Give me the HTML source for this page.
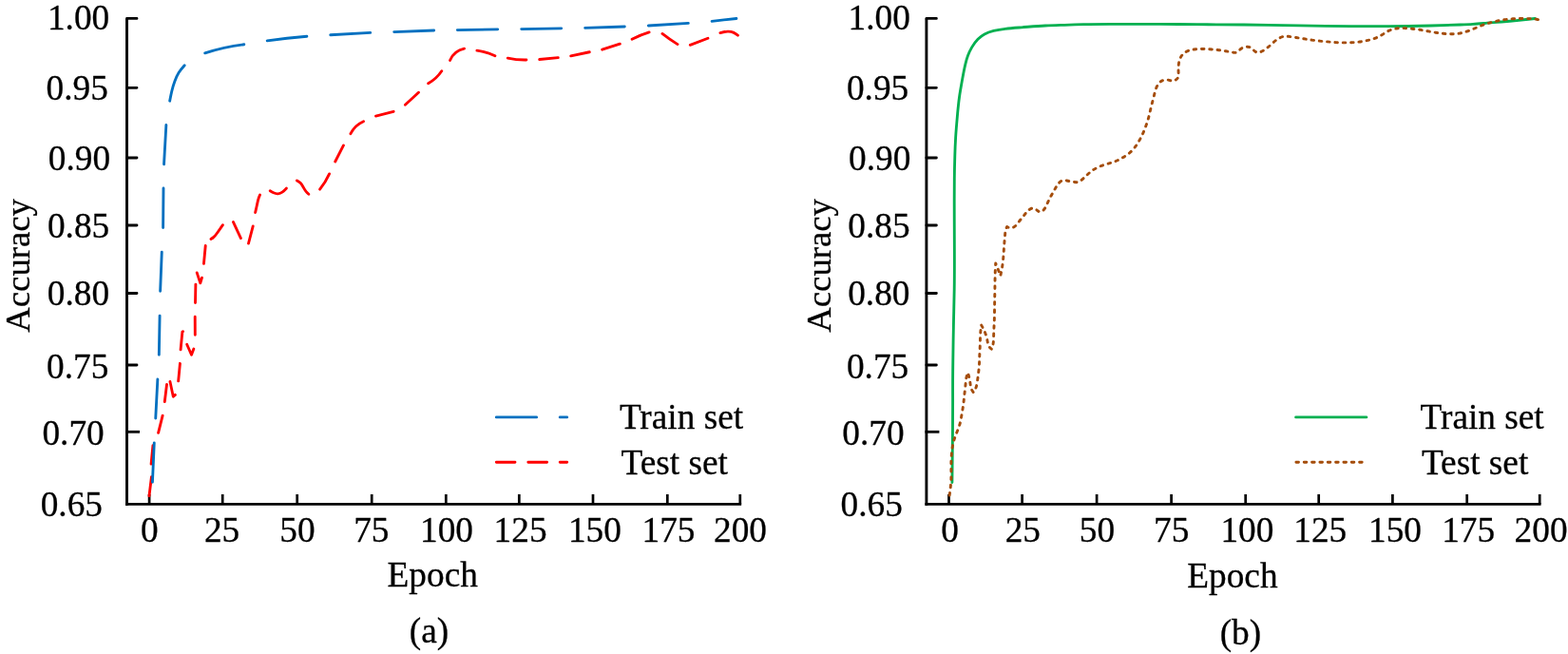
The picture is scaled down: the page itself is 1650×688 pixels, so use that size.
<!DOCTYPE html>
<html lang="en"><head><meta charset="utf-8"><title>Accuracy vs. Epoch</title>
<style>html,body{margin:0;padding:0;background:#fff}body{width:1650px;height:688px;overflow:hidden}svg{display:block}text{font-family:"Liberation Serif","Times New Roman",serif;font-size:37.3px;fill:#000;stroke:#000;stroke-width:0.3px;stroke-linejoin:round}</style>
</head><body>
<svg width="1650" height="688" viewBox="0 0 1650 688">
<rect width="1650" height="688" fill="#fff"/>
<g transform="translate(0,0)">
<g stroke="#000" fill="none">
<path d="M133.5,19.45V531.7" stroke-width="2.9"/>
<path d="M132.05,530.4H780.15" stroke-width="2.6"/>
<path d="M133.5,19.45H144M133.5,92.3H144M133.5,166H144M133.5,237H144M133.5,308.5H144M133.5,384H144" stroke-width="2.8" stroke-linecap="round"/>
<path d="M133.5,454.3H145.6" stroke-width="2.8" stroke-linecap="square"/>
<path d="M157.1,530.4V520M234.2,530.4V520M312.7,530.4V520M391.2,530.4V520M469.3,530.4V520M546.3,530.4V520M624,530.4V520M702.3,530.4V520M778.8,530.4V520" stroke-width="2.7"/>
</g>
<g fill="none" stroke="#FF0000" stroke-width="2.85" stroke-linecap="round" stroke-linejoin="round">
<path d="M156.98,521.71L159.42,501.69M159.07,488.1L160.93,468.7M166.57,455.32L171.13,437.08M173.29,422.51L175.51,404.39M178.95,401.48L182.3,417.3L184.39,415.37M187.67,400.9L189.43,382.3M190.07,367.8L191.9,349L192.58,348.63M196.68,362.24L201.5,373.3L203.85,367.06M205.3,352.3L205.2,333.2M205.51,318.5L205.89,299.1M207.22,286.87L210.8,297.9L212.5,292.17M214.47,277.3L216.23,258.5M221.99,251.42C222.75,250.97 223.51,250.53 224.2,250C226.05,248.6 227.44,246.64 228.8,244.7C230.7,242 232.55,239.34 234.4,236.67M245.49,233.53L253.41,250.57M261.48,256.12L266.22,237.88M268.65,223.52C269.28,220.75 269.91,217.99 270.5,215.2C271.03,212.7 271.53,210.19 272.4,207.8C272.74,206.87 273.14,205.96 273.53,205.05M284.21,200.75C285.37,201.49 286.53,202.22 287.8,202.8C289.31,203.48 290.98,203.94 292.6,203.8C294.32,203.65 295.97,202.83 297.4,201.8C298.9,200.72 300.14,199.4 301.39,198.08M312.37,189.9C313.74,190.71 315.11,191.51 316.2,192.6C317.54,193.94 318.44,195.7 319.4,197.4C320.24,198.89 321.11,200.33 322.2,201.6C322.99,202.53 323.9,203.37 324.81,204.21M336.6,199.23Q342.59,191.69 346.57,182.92M352.72,169.98L361.48,152.92M368.91,140.64Q373.4,131.72 382.52,127.69M395.48,122.03L414.12,117.27M426.41,110.32L440.49,97.18M450.66,87.78Q459.26,82.88 464.76,74.74M473.53,63.45Q477.97,53.37 488.56,51.18M501.89,53.14Q511.86,54.42 520.95,58.75M534.29,61.11Q543.99,63.17 553.9,62.97M567.7,62.53L587.3,60.67M600.69,58.86L620.31,54.74M633.67,52.19L652.33,46.21M665.04,41.21Q673.79,36.83 683.14,33.93M696.96,35.42Q704.64,41.52 713.01,46.62M726.25,47.35L744.95,40.25M757.89,34.66C760.49,33.92 763.09,33.18 765.8,33.1C767.77,33.04 769.8,33.34 771.6,34.1C773.35,34.84 774.88,36.03 776.41,37.22"/>
</g>
<g fill="none" stroke="#0070C0" stroke-width="2.85" stroke-linecap="round" stroke-linejoin="round">
<path d="M160.43,507.2L162.27,465.9M163.74,440L165.86,399M167.31,373.2L168.09,332.1M168.63,306.3L170.27,265.1M171.61,239.5L171.99,198M172.54,172.8L174.86,131.5M178.64,106.22C179.38,102.32 180.12,98.43 181.1,94.6C181.86,91.63 182.76,88.7 183.8,85.8C184.98,82.5 186.34,79.24 188.2,76.3C189.91,73.6 192.04,71.17 194.17,68.75M215.68,55.82Q235.8,49.26 256.81,46.72M281.19,42.91Q301.96,39.81 322.9,38.26M347.7,36.76L389.7,34.44M414.7,33.57L456.7,32.03M481.3,31.59L523.7,30.81M548.7,30.59L590.7,29.81M615.7,29.38L657.3,28.02M682.3,26.96L724.3,24.44M749.1,22.32L774.9,19.48"/>
</g>
<text x="115.2" y="31.3" text-anchor="end">1.00</text>
<text x="113.8" y="105" text-anchor="end">0.95</text>
<text x="116.1" y="179" text-anchor="end">0.90</text>
<text x="115.2" y="250" text-anchor="end">0.85</text>
<text x="115.1" y="320.6" text-anchor="end">0.80</text>
<text x="114.3" y="398" text-anchor="end">0.75</text>
<text x="109.7" y="468" text-anchor="end">0.70</text>
<text x="108" y="543.4" text-anchor="end">0.65</text>
<text x="157.3" y="569.6" text-anchor="middle">0</text>
<text x="233.6" y="569.6" text-anchor="middle">25</text>
<text x="312.9" y="569.6" text-anchor="middle">50</text>
<text x="390.8" y="569.6" text-anchor="middle">75</text>
<text x="470" y="569.6" text-anchor="middle">100</text>
<text x="547.6" y="569.6" text-anchor="middle">125</text>
<text x="625.9" y="569.6" text-anchor="middle">150</text>
<text x="703.5" y="569.6" text-anchor="middle">175</text>
<text x="779" y="569.6" text-anchor="middle">200</text>
<text transform="translate(31.3,279.4) rotate(-90)" text-anchor="middle" style="font-size:36.7px">Accuracy</text>
<text x="455.2" y="617.4" text-anchor="middle">Epoch</text>
<text x="451.5" y="676.3" text-anchor="middle">(a)</text>
<path d="M522.3,438.9H564.6M589.2,438.9H596.7" stroke="#0070C0" stroke-width="2.85" fill="none" stroke-linecap="round"/>
<path d="M522.3,486.2H542M555.8,486.2H575.6M589.2,486.2H596.7" stroke="#FF0000" stroke-width="2.85" fill="none" stroke-linecap="round"/>
<text x="651.9" y="451.2">Train set</text>
<text x="653.5" y="499.3">Test set</text>
</g>
<g transform="translate(841.4,0)">
<g stroke="#000" fill="none">
<path d="M133.5,19.45V531.7" stroke-width="2.9"/>
<path d="M132.05,530.4H780.15" stroke-width="2.6"/>
<path d="M133.5,19.45H144M133.5,92.3H144M133.5,166H144M133.5,237H144M133.5,308.5H144M133.5,384H144" stroke-width="2.8" stroke-linecap="round"/>
<path d="M133.5,454.3H145.6" stroke-width="2.8" stroke-linecap="square"/>
<path d="M157.1,530.4V520M234.2,530.4V520M312.7,530.4V520M391.2,530.4V520M469.3,530.4V520M546.3,530.4V520M624,530.4V520M702.3,530.4V520M778.8,530.4V520" stroke-width="2.7"/>
</g>
<path d="M160.5,507.6C160.57,501.73 160.64,495.87 160.7,490C160.77,483.33 160.83,476.67 160.9,470C160.97,463.33 161.05,456.67 161.1,450C161.18,440 161.21,430 161.2,420C161.19,413.33 161.17,406.67 161.2,400C161.23,393.33 161.31,386.67 161.4,380C161.59,365.67 161.79,351.33 162.1,337C162.34,326 162.64,315 162.8,304C163.07,286 162.97,268 162.9,250C162.85,238.33 162.81,226.67 162.8,215C162.79,206 162.8,197 162.9,188C162.99,180 163.16,172 163.4,164C163.59,157.66 163.82,151.33 164.2,145C164.4,141.66 164.64,138.33 164.9,135C165.3,129.9 165.74,124.8 166.2,119.7C166.73,113.86 167.29,108.01 168.1,102.2C168.91,96.38 169.96,90.59 171,84.8C172.05,78.94 173.08,73.08 174.5,67.3C175.22,64.36 176.04,61.44 177.1,58.6C178.22,55.6 179.6,52.69 181.2,49.9C183,46.76 185.07,43.77 187.6,41.2C189.66,39.11 192.02,37.3 194.6,35.9C197.6,34.28 200.88,33.22 204.2,32.4C208.22,31.41 212.3,30.78 216.4,30.3C222.11,29.63 227.86,29.24 233.6,28.8C241.93,28.17 250.26,27.43 258.6,27C265.26,26.65 271.93,26.5 278.6,26.3C285.27,26.1 291.93,25.85 298.6,25.7C308.6,25.47 318.6,25.44 328.6,25.4C338.6,25.36 348.6,25.3 358.6,25.3C371.93,25.3 385.27,25.4 398.6,25.5C411.93,25.6 425.27,25.7 438.6,25.8C456.93,25.93 475.27,26.05 493.6,26.3C513.6,26.57 533.6,27.01 553.6,27.3C570.27,27.54 586.93,27.69 603.6,27.7C615.27,27.71 626.93,27.65 638.6,27.5C647.27,27.39 655.94,27.23 664.6,27C674.8,26.73 685,26.37 695.2,26C699.67,25.84 704.14,25.68 708.6,25.4C713.61,25.09 718.6,24.62 723.6,24.2C728.6,23.78 733.6,23.4 738.6,23C743.14,22.63 747.67,22.24 752.2,21.8C756.34,21.4 760.47,20.95 764.6,20.5C767.7,20.17 770.8,19.83 773.9,19.5" fill="none" stroke="#00B050" stroke-width="2.85" stroke-linecap="round" stroke-linejoin="round"/>
<path d="M157.6,522.2C158.07,518.74 158.54,515.28 158.9,511.8C159.2,508.94 159.41,506.07 159.5,503.2C159.58,500.37 159.54,497.53 159.5,494.7C159.46,491.87 159.43,489.03 159.5,486.2C159.56,483.6 159.7,481 159.9,478.4C160.12,475.55 160.42,472.71 160.9,469.9C161.36,467.23 161.99,464.58 162.8,462C163.63,459.36 164.66,456.78 165.7,454.2C166.76,451.56 167.83,448.92 168.6,446.2C169.36,443.52 169.82,440.75 170.3,438C170.78,435.26 171.27,432.54 171.7,429.8C172.13,427.04 172.49,424.27 172.8,421.5C173.12,418.7 173.39,415.9 173.7,413.1C174.01,410.37 174.35,407.65 174.6,404.9C174.84,402.18 174.98,399.44 175.6,396.8C175.98,395.17 176.54,393.59 177.1,392C178.01,395.24 178.92,398.48 179.4,401.9C179.8,404.76 179.89,407.74 181.2,410.2C181.69,411.12 182.34,411.96 183,412.8C183.68,411.72 184.36,410.64 184.9,409.5C186.08,406.99 186.58,404.18 187,401.4C187.42,398.65 187.76,395.93 188.1,393.2C188.46,390.35 188.81,387.48 189,384.6C189.19,381.74 189.2,378.87 189.3,376C189.39,373.26 189.57,370.53 189.7,367.8C189.83,365.1 189.93,362.4 190,359.7C190.07,356.8 190.12,353.89 190.3,351C190.49,347.96 190.85,344.93 191.2,341.9C192.56,344.4 193.92,346.91 195,349.5C196.05,352.02 196.84,354.62 197.4,357.4C197.98,360.28 198.33,363.35 200.1,365.5C200.64,366.16 201.32,366.73 202,367.3C202.57,365.71 203.14,364.13 203.5,362.5C204.09,359.87 204.13,357.12 204.2,354.4C204.27,351.55 204.37,348.73 204.5,345.9C204.63,343.1 204.79,340.3 204.9,337.5C205.01,334.73 205.06,331.97 205.1,329.2C205.14,326.47 205.16,323.73 205.2,321C205.28,315.4 205.42,309.8 205.5,304.2C205.58,298.63 205.61,293.06 205.8,287.5C205.92,284 206.11,280.5 206.3,277Q209.04,283.48 211.4,290.1C212.09,286.81 212.78,283.52 213.3,280.2C213.73,277.45 214.06,274.68 214.3,271.9C214.55,269.1 214.72,266.3 214.9,263.5C215.08,260.73 215.28,257.96 215.5,255.2C215.73,252.4 215.98,249.62 216.2,246.8C216.34,245.01 216.47,243.2 217,241.5C217.31,240.51 217.75,239.55 218.2,238.6C219.48,239.19 220.76,239.77 222.1,239.8C223.15,239.82 224.24,239.5 225.2,239C227.7,237.71 229.3,235.26 231,233C232.73,230.71 234.56,228.62 236.3,226.4C238.06,224.15 239.72,221.77 242.2,220.2C243.1,219.63 244.11,219.17 245.1,219.1C246.58,219 248.03,219.79 249.4,220.8C250.72,221.77 251.97,222.93 253.3,222.9C254.37,222.87 255.49,222.08 256.4,221.2C258.57,219.11 259.58,216.54 260.7,214C261.85,211.39 263.12,208.82 264.5,206.3C265.83,203.87 267.27,201.51 268.6,199.1C269.95,196.65 271.2,194.16 273.3,192.1C274.75,190.68 276.61,189.46 278.5,189.5C279.33,189.52 280.17,189.78 281,190C283.72,190.72 286.38,191.02 289.2,191.5C290.49,191.72 291.81,191.97 293,191.7C294.37,191.39 295.57,190.39 296.7,189.4C298.89,187.48 300.85,185.58 302.9,183.7C304.96,181.81 307.13,179.94 309.5,178.4C311.82,176.89 314.33,175.69 316.9,174.7C319.52,173.69 322.2,172.89 324.9,172.1C327.57,171.32 330.24,170.56 332.8,169.5C335.29,168.47 337.66,167.17 340,165.8C342.48,164.35 344.91,162.83 347.1,161C349.3,159.16 351.26,157 353,154.7C354.66,152.51 356.14,150.19 357.5,147.8C358.89,145.36 360.15,142.86 361.3,140.3C362.43,137.78 363.45,135.2 364.4,132.6C365.36,129.96 366.25,127.3 367,124.6C367.75,121.92 368.37,119.21 369,116.5C369.64,113.76 370.3,111.03 371,108.3C371.69,105.6 372.42,102.9 373.1,100.2C373.78,97.48 374.41,94.76 375.5,92.1C376.52,89.62 377.94,87.18 380.1,85.7C382.33,84.17 385.33,83.67 388.1,84.2C389.83,84.53 391.46,85.26 393.1,85.1C394.14,85 395.19,84.55 396.1,83.9C397,83.26 397.76,82.44 398.2,81.5C398.91,79.99 398.78,78.16 398.7,76.4C398.56,73.4 398.56,70.58 398.9,67.7C399.21,65.08 399.81,62.42 401.1,60.1C402.45,57.68 404.56,55.63 407,54.3C409.42,52.98 412.16,52.37 414.9,52C417.7,51.62 420.5,51.49 423.3,51.5C426.07,51.51 428.84,51.64 431.6,51.8C434.44,51.96 437.27,52.16 440.1,52.5C442.89,52.84 445.67,53.32 448.4,53.8C451.14,54.28 453.82,54.76 456.7,55.2C457.63,55.34 458.57,55.48 459.4,55.3C461.19,54.91 462.44,53.05 464,51.7C466.06,49.92 468.67,49.04 471.3,49.2C472.69,49.29 474.09,49.67 475.2,50.4C476.44,51.21 477.32,52.47 478.5,53.5C479.59,54.46 480.94,55.23 482.3,55.3C483.51,55.36 484.74,54.86 485.9,54.3C488.54,53.02 490.84,51.41 493,49.6C495.14,47.81 497.16,45.83 499.3,44C501.35,42.25 503.53,40.63 506,39.5C507.86,38.65 509.88,38.08 511.9,38.1C512.67,38.11 513.43,38.2 514.2,38.3C516.95,38.65 519.67,39.07 522.4,39.5C525.1,39.93 527.8,40.36 530.5,40.8C533.3,41.25 536.09,41.71 538.9,42.1C541.66,42.49 544.43,42.81 547.2,43.1C550.03,43.39 552.87,43.64 555.7,43.9C558.47,44.15 561.23,44.42 564,44.6C566.76,44.78 569.53,44.89 572.3,44.9C575.07,44.91 577.83,44.84 580.6,44.7C583.41,44.56 586.21,44.35 589,44C591.72,43.66 594.42,43.17 597.1,42.6C599.81,42.02 602.5,41.35 605.1,40.4C607.71,39.45 610.22,38.23 612.6,36.8C615.04,35.33 617.35,33.64 619.9,32.4C622.37,31.2 625.07,30.42 627.8,30C630.52,29.58 633.26,29.52 636,29.6C638.77,29.68 641.54,29.91 644.3,30.2C647.11,30.49 649.91,30.85 652.7,31.3C655.44,31.75 658.17,32.29 660.9,32.8C663.59,33.3 666.29,33.78 669,34.2C671.79,34.63 674.59,35.01 677.4,35.3C680.19,35.59 682.99,35.81 685.8,35.8C688.61,35.79 691.43,35.57 694.2,35.1C696.88,34.65 699.52,33.96 702.1,33.1C704.78,32.2 707.4,31.11 710,30C712.56,28.91 715.11,27.81 717.7,26.8C720.32,25.78 722.99,24.86 725.7,24.1C728.34,23.36 731.02,22.78 733.7,22.2C736.46,21.6 739.21,21.01 742,20.6C744.72,20.2 747.46,19.97 750.2,19.8C753,19.63 755.8,19.53 758.6,19.5C761.43,19.47 764.26,19.52 767.1,19.6C769.91,19.68 772.74,19.8 775.5,20.3C776.3,20.45 777.1,20.62 777.9,20.8" fill="none" stroke="#A54D0B" stroke-width="2.9" stroke-dasharray="2.6 5.738" stroke-dashoffset="-1.2" stroke-linejoin="round" stroke-linecap="round"/>
<text x="116.5" y="31.3" text-anchor="end">1.00</text>
<text x="114.8" y="105" text-anchor="end">0.95</text>
<text x="116.9" y="179" text-anchor="end">0.90</text>
<text x="116.2" y="250" text-anchor="end">0.85</text>
<text x="116.1" y="320.6" text-anchor="end">0.80</text>
<text x="114.8" y="398" text-anchor="end">0.75</text>
<text x="110.2" y="468" text-anchor="end">0.70</text>
<text x="108.5" y="543.4" text-anchor="end">0.65</text>
<text x="158.1" y="569.6" text-anchor="middle">0</text>
<text x="234.9" y="569.6" text-anchor="middle">25</text>
<text x="313.1" y="569.6" text-anchor="middle">50</text>
<text x="391.3" y="569.6" text-anchor="middle">75</text>
<text x="471" y="569.6" text-anchor="middle">100</text>
<text x="547.9" y="569.6" text-anchor="middle">125</text>
<text x="626.6" y="569.6" text-anchor="middle">150</text>
<text x="703.8" y="569.6" text-anchor="middle">175</text>
<text x="780.2" y="569.6" text-anchor="middle">200</text>
<text transform="translate(32.7,279.4) rotate(-90)" text-anchor="middle" style="font-size:36.7px">Accuracy</text>
<text x="455.5" y="617.9" text-anchor="middle">Epoch</text>
<text x="464" y="677.5" text-anchor="middle">(b)</text>
<path d="M522.2,438.9H596.5" stroke="#00B050" stroke-width="2.85" stroke-linecap="round" fill="none"/>
<path d="M522.5,486.2H593.5" stroke="#A54D0B" stroke-width="2.9" stroke-dasharray="2.6 5.738" stroke-linecap="round" fill="none"/>
<text x="653.1" y="451.2">Train set</text>
<text x="654.5" y="499.3">Test set</text>
</g>
</svg>
</body></html>
